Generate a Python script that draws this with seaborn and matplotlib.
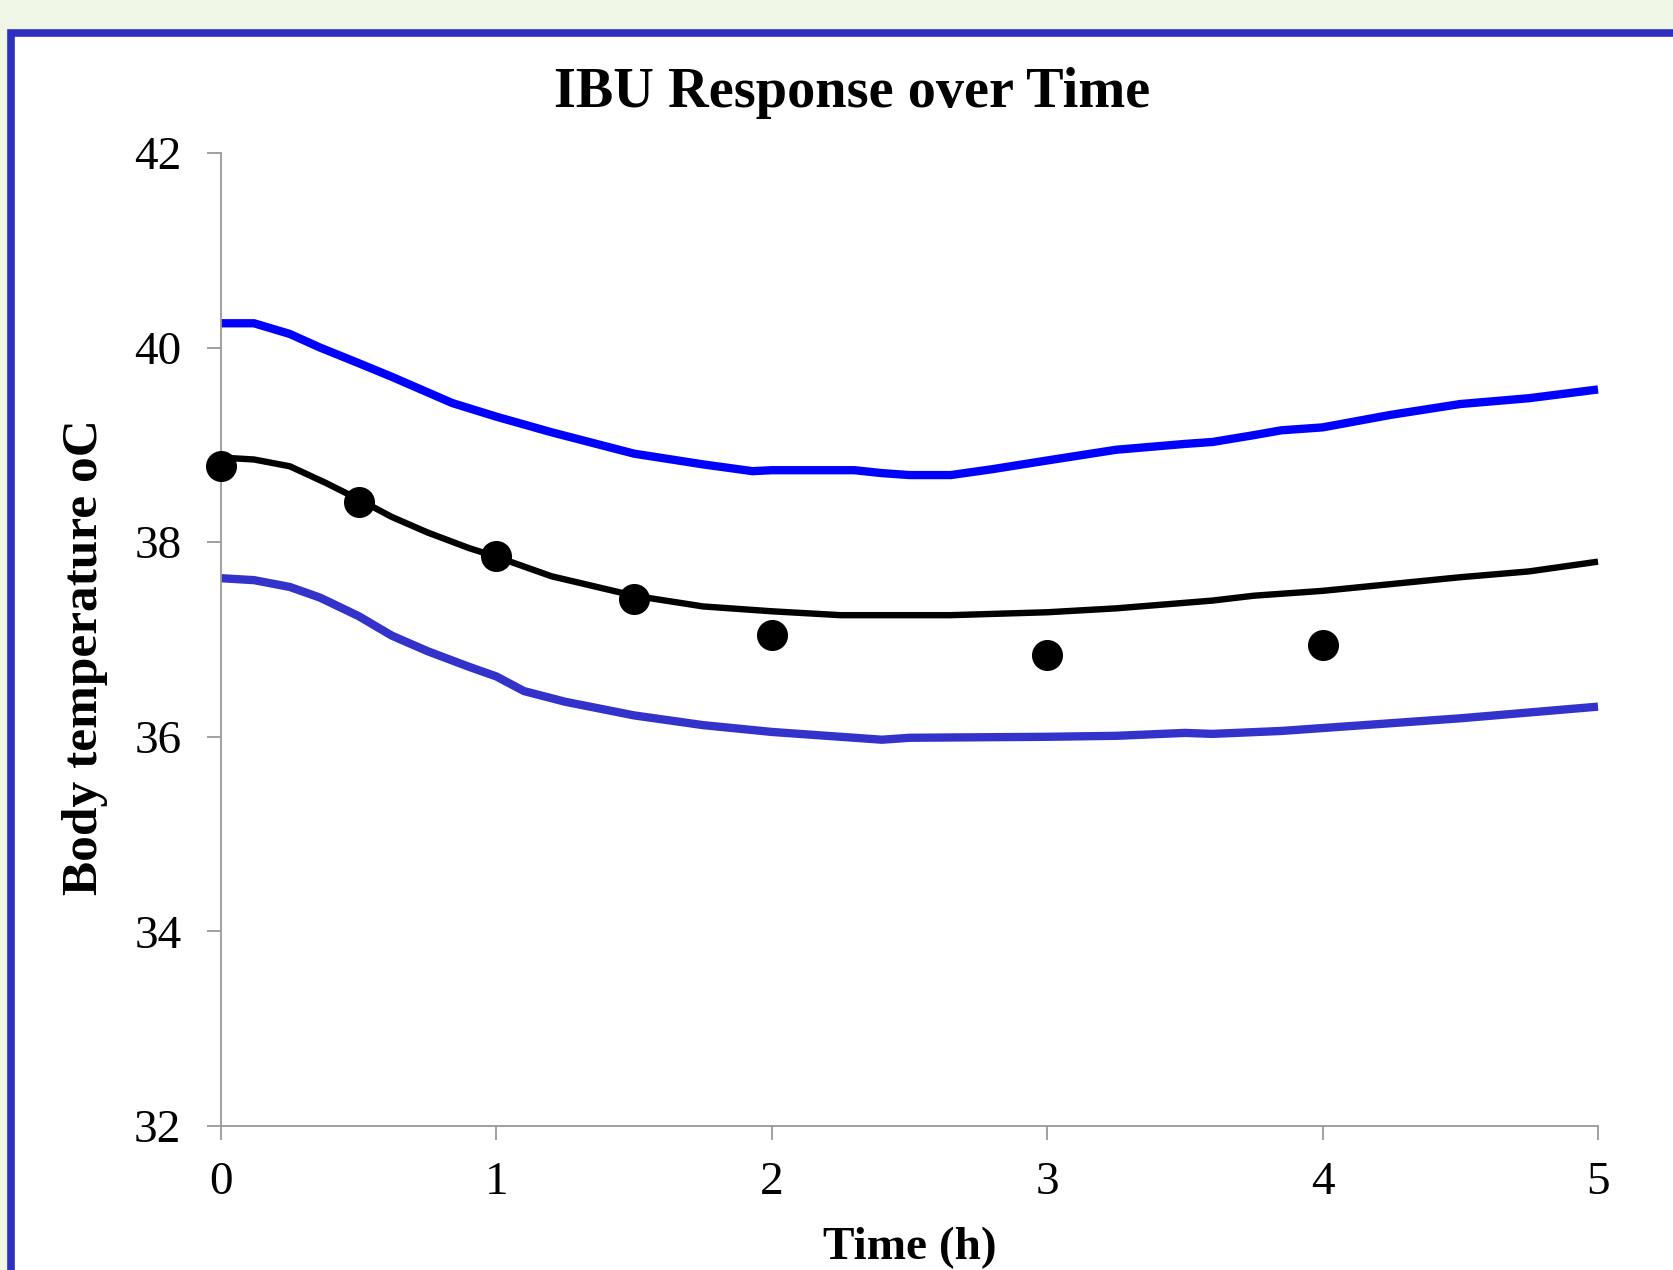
import matplotlib
matplotlib.use("Agg")
import matplotlib.pyplot as plt
import seaborn as sns
import pandas as pd
from matplotlib.patches import Rectangle

# ---- data ----
upper_t = [0, 0.12, 0.25, 0.36, 0.5, 0.62, 0.84, 1.0, 1.2, 1.5, 1.75, 1.93, 2.0, 2.3, 2.4, 2.5, 2.65, 2.8, 3.0, 3.25, 3.5, 3.6, 3.75, 3.85, 4.0, 4.25, 4.5, 4.75, 5.0]
upper_v = [40.25, 40.25, 40.14, 40.0, 39.84, 39.70, 39.43, 39.29, 39.13, 38.91, 38.80, 38.73, 38.74, 38.74, 38.71, 38.69, 38.69, 38.75, 38.84, 38.95, 39.01, 39.03, 39.10, 39.15, 39.18, 39.31, 39.42, 39.48, 39.57]

mean_t = [0, 0.12, 0.25, 0.38, 0.5, 0.62, 0.75, 0.9, 1.0, 1.2, 1.35, 1.5, 1.75, 2.0, 2.25, 2.5, 2.65, 3.0, 3.25, 3.6, 3.75, 4.0, 4.25, 4.5, 4.75, 5.0]
mean_v = [38.87, 38.85, 38.78, 38.61, 38.44, 38.26, 38.10, 37.94, 37.85, 37.65, 37.55, 37.45, 37.34, 37.29, 37.25, 37.25, 37.25, 37.28, 37.32, 37.40, 37.45, 37.50, 37.57, 37.64, 37.70, 37.80]

lower_t = [0, 0.12, 0.25, 0.36, 0.5, 0.62, 0.75, 0.9, 1.0, 1.1, 1.25, 1.5, 1.75, 2.0, 2.25, 2.4, 2.5, 3.0, 3.25, 3.5, 3.6, 3.85, 4.0, 4.5, 5.0]
lower_v = [37.63, 37.61, 37.54, 37.43, 37.24, 37.04, 36.88, 36.72, 36.62, 36.47, 36.36, 36.22, 36.12, 36.05, 36.00, 35.97, 35.99, 36.00, 36.01, 36.04, 36.03, 36.06, 36.09, 36.19, 36.31]

obs_t = [0, 0.5, 1.0, 1.5, 2.0, 3.0, 4.0]
obs_v = [38.78, 38.41, 37.86, 37.42, 37.05, 36.84, 36.94]

x_ticks = [0, 1, 2, 3, 4, 5]
y_ticks = [32, 34, 36, 38, 40, 42]

title = "IBU Response over Time"
xlabel = "Time (h)"
ylabel = "Body temperature oC"

# ---- style ----
sns.set_style("white")
plt.rcParams['font.family'] = ['Liberation Serif', 'DejaVu Serif']
plt.rcParams['text.color'] = 'black'

fig = plt.figure(figsize=(16.73, 12.70), dpi=100)
fig.patch.set_facecolor("#F0F7E6")

# white panel with blue border (clipped at right/bottom edges)
W, H = 1673, 1270
panel = Rectangle((10.5 / W, -0.05), 1.1, (1270 - 33) / H + 0.05, transform=fig.transFigure,
                  facecolor="white", edgecolor="#3030C0", linewidth=5.5, zorder=-10)
fig.patches.append(panel)

ax = fig.add_axes([221 / W, 1 - 1126 / H, (1598 - 221) / W, (1126 - 153) / H])
ax.set_facecolor("none")
ax.set_zorder(5)

up = pd.DataFrame({"t": upper_t, "v": upper_v})
mn = pd.DataFrame({"t": mean_t, "v": mean_v})
lo = pd.DataFrame({"t": lower_t, "v": lower_v})
ob = pd.DataFrame({"t": obs_t, "v": obs_v})

lkw = dict(sort=False, clip_on=False, solid_capstyle="butt", solid_joinstyle="round")
sns.lineplot(data=up, x="t", y="v", ax=ax, color="#0000FF", linewidth=6, **lkw)
sns.lineplot(data=lo, x="t", y="v", ax=ax, color="#3333CC", linewidth=6, **lkw)
sns.lineplot(data=mn, x="t", y="v", ax=ax, color="black", linewidth=4.6, **lkw)
sns.scatterplot(data=ob, x="t", y="v", ax=ax, color="black", s=500, edgecolor="black", linewidth=0,
                zorder=5, clip_on=False)

ax.set_xlim(0, 5)
ax.set_ylim(32, 42)
ax.set_xticks(x_ticks)
ax.set_yticks(y_ticks)
ax.set_xticklabels([str(v) for v in x_ticks])
ax.set_yticklabels([str(v) for v in y_ticks])

for side in ["top", "right"]:
    ax.spines[side].set_visible(False)
for side in ["left", "bottom"]:
    ax.spines[side].set_color("#999999")
    ax.spines[side].set_linewidth(1.3)

ax.tick_params(axis="both", which="major", direction="out", length=10, width=1.3,
               color="#999999", labelsize=34, labelcolor="black", bottom=True, left=True)
ax.tick_params(axis="y", pad=18.5)
ax.tick_params(axis="x", pad=15.5)

fig.text(852 / W, 1 - 107 / H, title, fontsize=40.5, fontweight="bold", color="black",
         ha="center", va="baseline")

ax.set_xlabel(xlabel, fontsize=34, fontweight="bold", color="black")
ax.xaxis.label.set_va("baseline")
ax.xaxis.set_label_coords(0.5, (1126 - 1259) / 973)

ax.set_ylabel(ylabel, fontsize=37, fontweight="bold", color="black")
ax.yaxis.set_label_coords(-0.082, 0.482)

fig.savefig("out.png", dpi=100, facecolor=fig.get_facecolor())
